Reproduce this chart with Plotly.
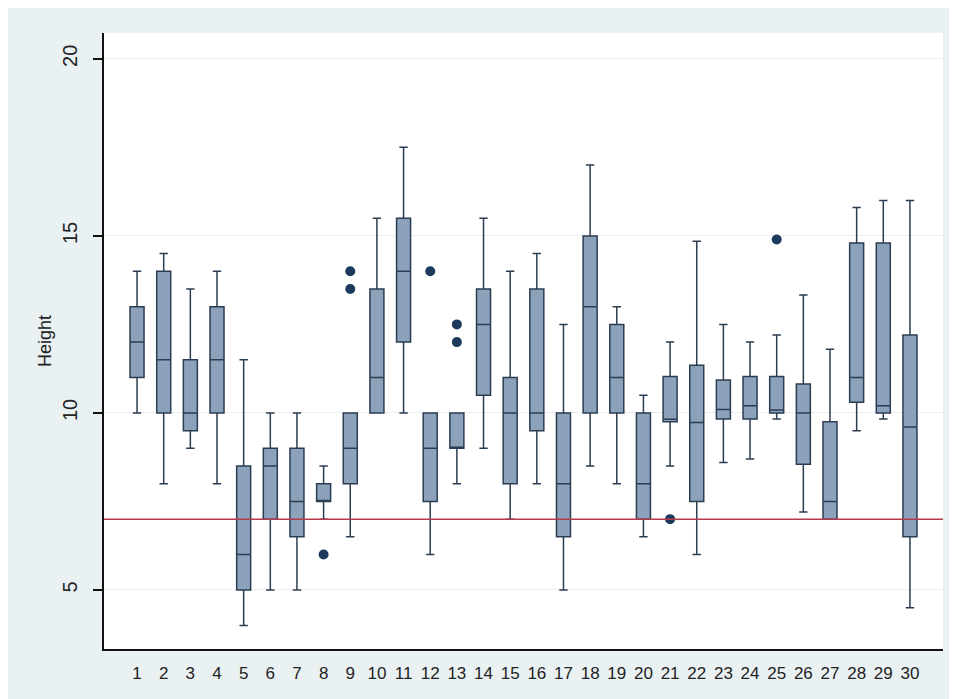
import plotly.graph_objects as go

groups = list(range(1, 31))
q1 =      [11, 10, 9.5, 10, 5, 7, 6.5, 7.5, 8, 10, 12, 7.5, 9, 10.5, 8, 9.5, 6.5, 10, 10, 7, 9.75, 7.5, 9.83, 9.83, 10.0, 8.55, 7.0, 10.3, 10.0, 6.5]
medians = [12, 11.5, 10, 11.5, 6, 8.5, 7.5, 7.5, 9, 11, 14, 9, 9, 12.5, 10, 10, 8, 13, 11, 8, 9.82, 9.73, 10.1, 10.2, 10.08, 10.0, 7.5, 11.0, 10.2, 9.6]
q3 =      [13, 14, 11.5, 13, 8.5, 9, 9, 8, 10, 13.5, 15.5, 10, 10, 13.5, 11, 13.5, 10, 15, 12.5, 10, 11.03, 11.35, 10.93, 11.03, 11.03, 10.82, 9.75, 14.8, 14.8, 12.2]
lower =   [10, 8, 9, 8, 4, 5, 5, 7, 6.5, 10, 10, 6, 8, 9, 7, 8, 5, 8.5, 8, 6.5, 8.5, 6, 8.6, 8.7, 9.83, 7.2, 7.0, 9.5, 9.83, 4.5]
upper =   [14, 14.5, 13.5, 14, 11.5, 10, 10, 8.5, 10, 15.5, 17.5, 10, 10, 15.5, 14, 14.5, 12.5, 17, 13, 10.5, 12, 14.85, 12.5, 12, 12.2, 13.33, 11.8, 15.8, 16, 16]

outlier_group = [8, 9, 9, 12, 13, 13, 21, 25]
outlier_value = [6, 14, 13.5, 14, 12.5, 12, 7, 14.9]

reference_value = 7
y_ticks = [5, 10, 15, 20]

fig = go.Figure()
fig.add_trace(go.Box(
    x=groups, q1=q1, median=medians, q3=q3,
    lowerfence=lower, upperfence=upper,
    boxpoints=False, width=0.525, whiskerwidth=0.6,
    fillcolor="#8ca2ba", line=dict(color="#2a3d52", width=1.5),
    showlegend=False, hoverinfo="skip",
))
fig.add_trace(go.Scatter(
    x=outlier_group, y=outlier_value, mode="markers",
    marker=dict(color="#1c3a5e", size=10, line=dict(width=0)),
    showlegend=False, hoverinfo="skip",
))

fig.add_shape(type="line", xref="paper", yref="y", x0=0, x1=1,
              y0=reference_value, y1=reference_value,
              line=dict(color="#b53a4c", width=1.5), layer="above")

font = "Liberation Sans, Arial, sans-serif"
fig.update_layout(
    width=949, height=691,
    margin=dict(l=96, r=14, t=25, b=50),
    paper_bgcolor="#eaf1f3", plot_bgcolor="white",
    font=dict(family=font, color="#222222"),
    xaxis=dict(
        range=[-0.24, 31.24], tickmode="array", tickvals=groups,
        ticktext=[str(g) for g in groups], showgrid=False, zeroline=False,
        showline=True, linecolor="#111111", linewidth=1.5, ticks="",
        tickfont=dict(size=17, family=font, color="#222222"),
        ticklabelstandoff=8,
    ),
    yaxis=dict(
        range=[3.333, 20.73], tickmode="array", tickvals=y_ticks,
        showgrid=True, gridcolor="#e9eef0", gridwidth=1, zeroline=False,
        showline=True, linecolor="#111111", linewidth=1.5,
        ticks="outside", ticklen=9, tickcolor="#111111", tickwidth=1.5,
        tickangle=-90, tickfont=dict(size=20, family=font, color="#222222"),
        ticklabelstandoff=8,
        title=dict(text="Height", font=dict(size=18, family=font, color="#222222"), standoff=3),
    ),
)

fig.write_html("out.html")
